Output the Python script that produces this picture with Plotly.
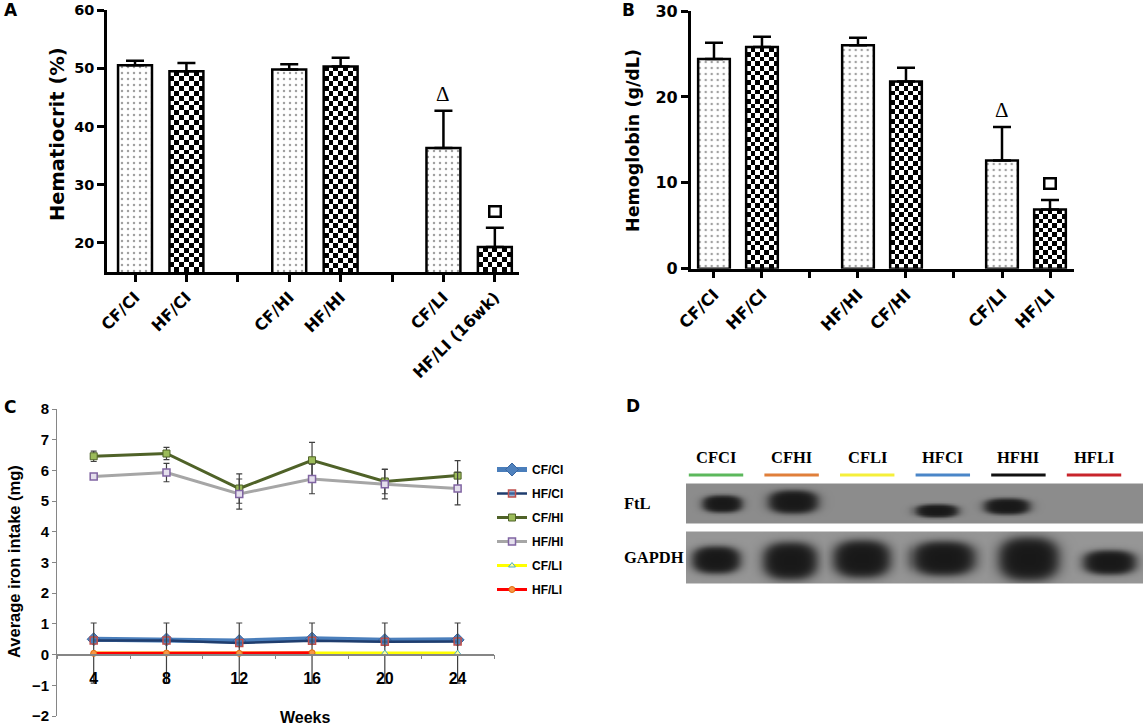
import numpy as np
import plotly.graph_objects as go

W, H = 1146, 728

# ---------------- data ----------------
# Panel A: hematocrit (%)
a_labels = ["CF/CI", "HF/CI", "CF/HI", "HF/HI", "CF/LI", "HF/LI (16wk)"]
a_values = [50.5, 49.5, 49.8, 50.3, 36.3, 19.3]
a_errors = [0.8, 1.4, 0.9, 1.5, 6.4, 3.3]
a_marks = ["", "", "", "", "Δ", "□"]

# Panel B: hemoglobin (g/dL)
b_labels = ["CF/CI", "HF/CI", "HF/HI", "CF/HI", "CF/LI", "HF/LI"]
b_values = [24.4, 25.8, 26.0, 21.8, 12.6, 6.9]
b_errors = [1.9, 1.2, 0.9, 1.6, 3.9, 1.1]
b_marks = ["", "", "", "", "Δ", "□"]

bar_fill = ["dots", "checker", "dots", "checker", "dots", "checker"]

# Panel C: average iron intake (mg)
weeks = [4, 8, 12, 16, 20, 24]
cfci = [0.50, 0.49, 0.44, 0.52, 0.47, 0.48]
hfci = [0.46, 0.46, 0.38, 0.45, 0.42, 0.43]
cfhi = [6.46, 6.55, 5.41, 6.33, 5.64, 5.83]
cfhi_err = [0.17, 0.20, 0.48, 0.58, 0.40, 0.49]
hfhi = [5.80, 5.93, 5.23, 5.72, 5.55, 5.41]
hfhi_err = [0.05, 0.30, 0.49, 0.48, 0.48, 0.53]
cfli = [0.05, 0.05, 0.05, 0.05, 0.05, 0.05]
cfli_err = [0.98, 0.98, 0.98, 0.98, 0.98, 0.98]
hfli_weeks = [4, 8, 12, 16]
hfli = [0.04, 0.05, 0.04, 0.06]

# Panel D: western blot (band content per lane)
lanes = ["CFCI", "CFHI", "CFLI", "HFCI", "HFHI", "HFLI"]
lane_colors = ["#5cb85c", "#e07f3a", "#f5ef3a", "#4a86c8", "#111111", "#c8242b"]
ftl_present = [1, 1, 0, 1, 1, 0]
ftl_shift = [0.08, 0.02, 0.0, -0.09, -0.16, 0.0]
ftl_width = [0.52, 0.65, 0.0, 0.56, 0.60, 0.0]
ftl_height = [17, 23, 0, 13, 16, 0]
ftl_row = [63.5, 61.5, 0, 70.5, 66.0, 0]
gapdh_shift = [0.0, -0.02, -0.07, 0.0, 0.13, 0.20]
gapdh_width = [0.63, 0.71, 0.75, 0.83, 0.79, 0.69]
gapdh_height = [27, 37, 37, 34, 43, 24]
gapdh_row = [119.5, 120.5, 118.5, 118.0, 118.5, 122.0]

# ---------------- helpers ----------------
def px_x(p):
    return p / W


def px_y(p):
    return (H - p) / H


SANS = "DejaVu Sans"
ARIAL = "Liberation Sans, Arial"
SERIF = "Liberation Serif, Times New Roman"

slots = [0, 1, 3, 4, 6, 7]
fig = go.Figure()


def checker(xc, bottom, top, halfw, ncols, cell_h, xa, ya):
    nrows = max(1, int(round((top - bottom) / cell_h)))
    xe = np.linspace(xc - halfw, xc + halfw, ncols + 1)
    ye = np.linspace(bottom, top, nrows + 1)
    z = np.add.outer(np.arange(nrows), np.arange(ncols)) % 2
    return go.Heatmap(x=xe, y=ye, z=z, colorscale=[[0, "white"], [1, "black"]],
                      zmin=0, zmax=1, showscale=False, xaxis=xa, yaxis=ya,
                      hoverinfo="skip", showlegend=False)


def bar_panel(labels, values, errors, xa, ya, ybottom, cell_h):
    bw = 0.66
    for s, v, f in zip(slots, values, bar_fill):
        if f == "checker":
            fig.add_trace(checker(s, ybottom, v, bw / 2, 7, cell_h, xa, ya))
    fig.add_trace(go.Bar(
        x=slots, y=values, width=bw, xaxis=xa, yaxis=ya, showlegend=False,
        marker=dict(
            color=["white" if f == "dots" else "rgba(0,0,0,0)" for f in bar_fill],
            line=dict(color="black", width=2.5),
            pattern=dict(shape=["." if f == "dots" else "" for f in bar_fill],
                         fgcolor="#222222", bgcolor="white", size=6, solidity=0.14),
        ),
        error_y=dict(type="data", symmetric=False, array=errors,
                     arrayminus=[0] * len(errors), color="black",
                     thickness=2.5, width=9),
    ))


bar_panel(a_labels, a_values, a_errors, "x", "y", 15, 0.85)
bar_panel(b_labels, b_values, b_errors, "x2", "y2", 0, 0.55)

# ---------------- panel C lines ----------------
err_style = dict(color="#404040", thickness=1.2, width=3)
c_series = [
    ("CF/CI", weeks, cfci, None, dict(color="#4a7ebb", width=5),
     dict(symbol="diamond", size=10, color="#4f81bd", line=dict(color="#3a66a0", width=1))),
    ("HF/CI", weeks, hfci, None, dict(color="#1f3d6e", width=2.5),
     dict(symbol="square", size=7, color="rgba(79,129,189,0.6)", line=dict(color="#c0504d", width=1.5))),
    ("CF/HI", weeks, cfhi, cfhi_err, dict(color="#4f6228", width=3),
     dict(symbol="square", size=7, color="#9bbb59", line=dict(color="#4f6228", width=1))),
    ("HF/HI", weeks, hfhi, hfhi_err, dict(color="#a6a6a6", width=3),
     dict(symbol="square", size=7, color="#e4dfec", line=dict(color="#8064a2", width=1.5))),
    ("CF/LI", weeks, cfli, cfli_err, dict(color="#ffff00", width=3),
     dict(symbol="triangle-up", size=6, color="#ffff99", line=dict(color="#4bacc6", width=1))),
    ("HF/LI", hfli_weeks, hfli, None, dict(color="#ff0000", width=3),
     dict(symbol="circle", size=6, color="#f79646", line=dict(color="#e46c0a", width=1))),
]
for name, xs, ys, err, line, marker in c_series:
    fig.add_trace(go.Scatter(
        x=xs, y=ys, name=name, mode="lines+markers", line=line, marker=marker,
        xaxis="x3", yaxis="y3", legendgroup=name, cliponaxis=False,
        error_y=(dict(type="data", array=err, **err_style) if err is not None else None),
    ))

# ---------------- panel D blot ----------------
xr_d = [-0.397, 5.648]
yr_d = [0, 150]
gx = np.linspace(xr_d[0], xr_d[1], 229)
gy = np.linspace(yr_d[0], yr_d[1], 76)
GX, GY = np.meshgrid(gx, gy)
img = np.full(GX.shape, 255.0)
strip_rows = [(43.3, 83.3, 140.0), (91.7, 143.3, 150.0)]
for top, bot, grey in strip_rows:
    img[(GY >= top) & (GY <= bot)] = grey


def add_band(cx, w, h, cy, strip_top, strip_bot, grey, dark=24.0):
    dx = np.abs((GX - cx) / (w / 2))
    dy = np.abs((GY - cy) / (h / 2))
    r = (dx ** 2.6 + dy ** 2.6) ** (1 / 2.6)
    f = 1 / (1 + np.exp((r - 1) / 0.13))
    val = grey - (grey - dark) * f
    inside = (GY >= strip_top) & (GY <= strip_bot)
    img[inside] = np.minimum(img[inside], val[inside])


for i in range(len(lanes)):
    if ftl_present[i]:
        add_band(i + ftl_shift[i], ftl_width[i], ftl_height[i], ftl_row[i], 43.3, 83.3, 140.0)
    add_band(i + gapdh_shift[i], gapdh_width[i], gapdh_height[i], gapdh_row[i], 91.7, 143.3, 150.0)

fig.add_trace(go.Heatmap(
    x=gx, y=gy, z=np.round(img).astype(int), colorscale=[[0, "black"], [1, "white"]],
    zmin=0, zmax=255, showscale=False, zsmooth="best", xaxis="x4", yaxis="y4",
    hoverinfo="skip", showlegend=False))

# ---------------- layout ----------------
def tickfont(fam, size, bold=True):
    return dict(family=fam, size=size, color="black", weight="bold" if bold else "normal")


a_ticktext = []
for s in range(8):
    a_ticktext.append(a_labels[slots.index(s)] if s in slots else "")
b_ticktext = []
for s in range(8):
    b_ticktext.append(b_labels[slots.index(s)] if s in slots else "")

bar_x_common = dict(showgrid=False, zeroline=False, showline=True, linecolor="black",
                    linewidth=2.5, ticks="outside", ticklen=7, tickwidth=2.5,
                    tickcolor="black", tickmode="array", tickvals=list(range(8)),
                    tickangle=-45, automargin=False)
bar_y_common = dict(showgrid=False, zeroline=False, showline=True, linecolor="black",
                    linewidth=2.5, ticks="outside", ticklen=7, tickwidth=2.5,
                    tickcolor="black", automargin=False)

c_domain_y = [px_y(716), px_y(409)]
c_range_y = [-2, 8]
zero_pos = c_domain_y[0] + (0 - c_range_y[0]) / (c_range_y[1] - c_range_y[0]) * (c_domain_y[1] - c_domain_y[0])

fig.update_layout(
    width=W, height=H, margin=dict(l=0, r=0, t=0, b=0), autosize=False,
    paper_bgcolor="white", plot_bgcolor="rgba(0,0,0,0)", barmode="overlay",
    xaxis=dict(domain=[px_x(107), px_x(519)], range=[-0.545, 7.47], anchor="y",
               ticktext=a_ticktext, tickfont=tickfont(SANS, 16), **bar_x_common),
    yaxis=dict(domain=[px_y(272), px_y(10)], range=[15, 60], anchor="x",
               tickvals=[20, 30, 40, 50, 60], tickfont=tickfont(SANS, 14.5), **bar_y_common),
    xaxis2=dict(domain=[px_x(690.7), px_x(1074)], range=[-0.485, 7.5], anchor="y2",
                ticktext=b_ticktext, tickfont=tickfont(SANS, 16.5), **bar_x_common),
    yaxis2=dict(domain=[px_y(268.7), px_y(11)], range=[0, 30], anchor="x2",
                tickvals=[0, 10, 20, 30], tickfont=tickfont(SANS, 16), **bar_y_common),
    xaxis3=dict(domain=[px_x(57.3), px_x(494)], range=[2, 26], anchor="free",
                position=zero_pos, showgrid=False, zeroline=False, showline=True,
                linecolor="#868686", linewidth=1.5, tickmode="array", tickvals=weeks,
                ticks="", ticklabelstandoff=9, tickfont=tickfont(ARIAL, 16),
                minor=dict(tickmode="array", tickvals=[2, 6, 10, 14, 18, 22, 26],
                           ticks="outside", ticklen=4, tickcolor="#868686", tickwidth=1),
                automargin=False),
    yaxis3=dict(domain=c_domain_y, range=c_range_y, anchor="x3", showgrid=False,
                zeroline=False, showline=True, linecolor="#868686", linewidth=1.2,
                ticks="outside", ticklen=4, tickcolor="#868686", tickvals=list(range(-2, 9)),
                tickfont=tickfont(ARIAL, 15), automargin=False),
    xaxis4=dict(domain=[px_x(686), px_x(1143)], range=xr_d, anchor="y4", visible=False),
    yaxis4=dict(domain=[px_y(590), px_y(440)], range=[yr_d[1], yr_d[0]], anchor="x4",
                visible=False),
    legend=dict(x=px_x(492), y=px_y(455), xanchor="left", yanchor="top",
                font=dict(family=ARIAL, size=12, color="black", weight="bold"),
                bgcolor="rgba(0,0,0,0)", tracegroupgap=5, itemwidth=30),
    showlegend=True,
)

ann = []
# panel letters
for letter, x, y in [("A", 2, 10), ("B", 620, 10), ("C", 2, 407), ("D", 624, 406)]:
    ann.append(dict(text=letter, x=px_x(x), y=px_y(y), xref="paper", yref="paper",
                    xanchor="left", yanchor="middle", showarrow=False,
                    font=dict(family=SANS, size=17, color="black", weight="bold")))
# y-axis titles
ann.append(dict(text="Hematiocrit (%)", x=px_x(57), y=px_y(134), xref="paper", yref="paper",
                textangle=-90, showarrow=False, xanchor="center", yanchor="middle",
                font=dict(family=SANS, size=19.5, color="black", weight="bold")))
ann.append(dict(text="Hemoglobin (g/dL)", x=px_x(633), y=px_y(141), xref="paper", yref="paper",
                textangle=-90, showarrow=False, xanchor="center", yanchor="middle",
                font=dict(family=SANS, size=17.5, color="black", weight="bold")))
ann.append(dict(text="Average iron intake (mg)", x=px_x(14), y=px_y(562), xref="paper",
                yref="paper", textangle=-90, showarrow=False, xanchor="center",
                yanchor="middle", font=dict(family=ARIAL, size=16.5, color="black",
                                            weight="bold")))
ann.append(dict(text="Weeks", x=px_x(305), y=px_y(717), xref="paper", yref="paper",
                showarrow=False, xanchor="center", yanchor="middle",
                font=dict(family=ARIAL, size=16, color="black", weight="bold")))

# significance marks
for marks, vals, errs, xa, ya in [(a_marks, a_values, a_errors, "x", "y"),
                                   (b_marks, b_values, b_errors, "x2", "y2")]:
    for s, m, v, e in zip(slots, marks, vals, errs):
        if m == "Δ":
            ann.append(dict(text="Δ", x=s, y=v + e, xref=xa, yref=ya, yshift=17,
                            showarrow=False, yanchor="middle",
                            font=dict(family=SERIF, size=21, color="black")))
        elif m == "□":
            ann.append(dict(text="\u00a0", x=s, y=v + e, xref=xa, yref=ya, yshift=16,
                            showarrow=False, yanchor="middle", width=9, height=8,
                            bordercolor="black", borderwidth=2.5, borderpad=0,
                            font=dict(size=4)))

# blot lane labels and strip labels
shapes = []
for i, (lane, col) in enumerate(zip(lanes, lane_colors)):
    ann.append(dict(text=lane, x=i, y=17, xref="x4", yref="y4", showarrow=False,
                    xanchor="center", yanchor="middle",
                    font=dict(family=SERIF, size=16.5, color="black", weight="bold")))
    shapes.append(dict(type="line", x0=i - 0.36, x1=i + 0.36, y0=35, y1=35,
                       xref="x4", yref="y4", line=dict(color=col, width=3)))
for lab, row in [("FtL", 63.3), ("GAPDH", 117.5)]:
    ann.append(dict(text=lab, x=px_x(622), y=row, xref="paper", yref="y4", showarrow=False,
                    xanchor="left", yanchor="middle",
                    font=dict(family=SERIF, size=16.5, color="black", weight="bold")))

fig.update_layout(annotations=ann, shapes=shapes)
fig.write_html("out.html", config={"displayModeBar": False},
               post_script="document.body.style.margin='0';"
                           "document.body.style.overflow='hidden';")
